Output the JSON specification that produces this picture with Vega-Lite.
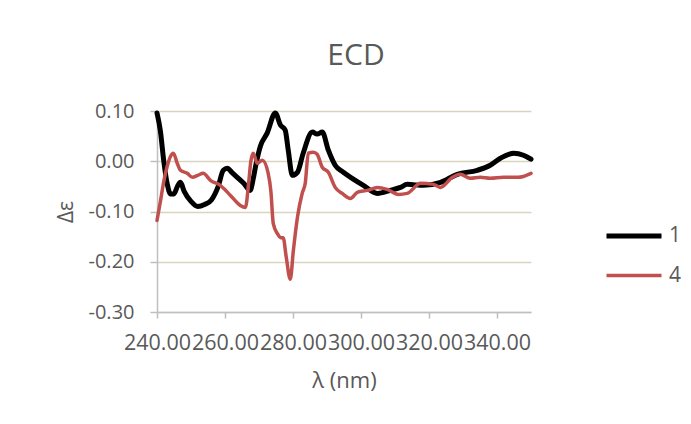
{
  "$schema": "https://vega.github.io/schema/vega-lite/v6.json",
  "width": 374,
  "height": 201,
  "autosize": {"type": "none"},
  "padding": {"left": 157, "top": 111, "right": 160, "bottom": 112},
  "background": "white",
  "config": {
    "view": {"stroke": null},
    "font": "Open Sans",
    "axis": {"labelColor": "#595959", "titleColor": "#595959", "labelFont": "Open Sans", "titleFont": "Open Sans", "titleFontWeight": "normal", "domainColor": "#BFBFBF", "tickColor": "#BFBFBF", "domainWidth": 1.5, "tickWidth": 1.5},
    "legend": {"labelColor": "#595959", "labelFont": "Open Sans", "labelFontSize": 21}
  },
  "title": {"text": "ECD", "fontSize": 30, "font": "Open Sans", "fontWeight": "normal", "color": "#595959", "anchor": "middle", "dx": 12, "offset": 30},
  "data": {"values": [
    {"wl": 240, "de": 0.096, "s": "1"},
    {"wl": 241, "de": 0.06, "s": "1"},
    {"wl": 242, "de": 0.0, "s": "1"},
    {"wl": 243, "de": -0.045, "s": "1"},
    {"wl": 244, "de": -0.065, "s": "1"},
    {"wl": 245, "de": -0.065, "s": "1"},
    {"wl": 246, "de": -0.05, "s": "1"},
    {"wl": 246.9, "de": -0.042, "s": "1"},
    {"wl": 248, "de": -0.06, "s": "1"},
    {"wl": 250, "de": -0.08, "s": "1"},
    {"wl": 252, "de": -0.09, "s": "1"},
    {"wl": 254, "de": -0.086, "s": "1"},
    {"wl": 256, "de": -0.077, "s": "1"},
    {"wl": 258, "de": -0.05, "s": "1"},
    {"wl": 259.5, "de": -0.018, "s": "1"},
    {"wl": 260.7, "de": -0.014, "s": "1"},
    {"wl": 262, "de": -0.022, "s": "1"},
    {"wl": 263.6, "de": -0.032, "s": "1"},
    {"wl": 265.5, "de": -0.044, "s": "1"},
    {"wl": 267.4, "de": -0.058, "s": "1"},
    {"wl": 268.3, "de": -0.035, "s": "1"},
    {"wl": 269, "de": -0.01, "s": "1"},
    {"wl": 270.4, "de": 0.03, "s": "1"},
    {"wl": 272.4, "de": 0.056, "s": "1"},
    {"wl": 274.8, "de": 0.096, "s": "1"},
    {"wl": 276.3, "de": 0.072, "s": "1"},
    {"wl": 277.7, "de": 0.062, "s": "1"},
    {"wl": 278.6, "de": 0.022, "s": "1"},
    {"wl": 279.8, "de": -0.028, "s": "1"},
    {"wl": 281.3, "de": -0.022, "s": "1"},
    {"wl": 283, "de": 0.016, "s": "1"},
    {"wl": 285.7, "de": 0.058, "s": "1"},
    {"wl": 287.1, "de": 0.054, "s": "1"},
    {"wl": 288.6, "de": 0.058, "s": "1"},
    {"wl": 290.4, "de": 0.022, "s": "1"},
    {"wl": 292.4, "de": -0.008, "s": "1"},
    {"wl": 294.8, "de": -0.022, "s": "1"},
    {"wl": 297.4, "de": -0.034, "s": "1"},
    {"wl": 300.7, "de": -0.048, "s": "1"},
    {"wl": 304.8, "de": -0.064, "s": "1"},
    {"wl": 308.6, "de": -0.058, "s": "1"},
    {"wl": 311.6, "de": -0.052, "s": "1"},
    {"wl": 313.6, "de": -0.046, "s": "1"},
    {"wl": 318.4, "de": -0.048, "s": "1"},
    {"wl": 323.4, "de": -0.042, "s": "1"},
    {"wl": 328.3, "de": -0.026, "s": "1"},
    {"wl": 334.2, "de": -0.018, "s": "1"},
    {"wl": 338, "de": -0.008, "s": "1"},
    {"wl": 341, "de": 0.006, "s": "1"},
    {"wl": 344.9, "de": 0.016, "s": "1"},
    {"wl": 347.8, "de": 0.012, "s": "1"},
    {"wl": 350, "de": 0.004, "s": "1"},
    {"wl": 240, "de": -0.118, "s": "4"},
    {"wl": 241, "de": -0.08, "s": "4"},
    {"wl": 242, "de": -0.04, "s": "4"},
    {"wl": 243, "de": -0.01, "s": "4"},
    {"wl": 244, "de": 0.01, "s": "4"},
    {"wl": 244.8, "de": 0.016, "s": "4"},
    {"wl": 246, "de": -0.005, "s": "4"},
    {"wl": 246.9, "de": -0.018, "s": "4"},
    {"wl": 248.9, "de": -0.024, "s": "4"},
    {"wl": 250.4, "de": -0.032, "s": "4"},
    {"wl": 252, "de": -0.028, "s": "4"},
    {"wl": 253.6, "de": -0.024, "s": "4"},
    {"wl": 255.7, "de": -0.038, "s": "4"},
    {"wl": 258.6, "de": -0.048, "s": "4"},
    {"wl": 261.6, "de": -0.068, "s": "4"},
    {"wl": 264.5, "de": -0.088, "s": "4"},
    {"wl": 266, "de": -0.092, "s": "4"},
    {"wl": 267, "de": -0.04, "s": "4"},
    {"wl": 267.6, "de": 0.0, "s": "4"},
    {"wl": 268.3, "de": 0.016, "s": "4"},
    {"wl": 269.5, "de": -0.004, "s": "4"},
    {"wl": 271, "de": 0.002, "s": "4"},
    {"wl": 272.7, "de": -0.024, "s": "4"},
    {"wl": 273.5, "de": -0.06, "s": "4"},
    {"wl": 274.2, "de": -0.124, "s": "4"},
    {"wl": 275.5, "de": -0.145, "s": "4"},
    {"wl": 276.3, "de": -0.152, "s": "4"},
    {"wl": 277.1, "de": -0.152, "s": "4"},
    {"wl": 278, "de": -0.19, "s": "4"},
    {"wl": 279.2, "de": -0.235, "s": "4"},
    {"wl": 280.1, "de": -0.178, "s": "4"},
    {"wl": 281.3, "de": -0.112, "s": "4"},
    {"wl": 282.7, "de": -0.064, "s": "4"},
    {"wl": 283.6, "de": -0.044, "s": "4"},
    {"wl": 284.5, "de": 0.016, "s": "4"},
    {"wl": 286, "de": 0.018, "s": "4"},
    {"wl": 287.1, "de": 0.014, "s": "4"},
    {"wl": 288.6, "de": -0.012, "s": "4"},
    {"wl": 290.4, "de": -0.022, "s": "4"},
    {"wl": 292.4, "de": -0.052, "s": "4"},
    {"wl": 294.5, "de": -0.064, "s": "4"},
    {"wl": 296.9, "de": -0.074, "s": "4"},
    {"wl": 298.9, "de": -0.062, "s": "4"},
    {"wl": 301.9, "de": -0.058, "s": "4"},
    {"wl": 304.8, "de": -0.052, "s": "4"},
    {"wl": 307.7, "de": -0.056, "s": "4"},
    {"wl": 311, "de": -0.066, "s": "4"},
    {"wl": 313.6, "de": -0.064, "s": "4"},
    {"wl": 317.5, "de": -0.044, "s": "4"},
    {"wl": 321.3, "de": -0.046, "s": "4"},
    {"wl": 323.3, "de": -0.052, "s": "4"},
    {"wl": 326.9, "de": -0.032, "s": "4"},
    {"wl": 329.2, "de": -0.026, "s": "4"},
    {"wl": 332.1, "de": -0.034, "s": "4"},
    {"wl": 335.1, "de": -0.032, "s": "4"},
    {"wl": 338, "de": -0.034, "s": "4"},
    {"wl": 341.9, "de": -0.032, "s": "4"},
    {"wl": 346.2, "de": -0.032, "s": "4"},
    {"wl": 350, "de": -0.024, "s": "4"}
  ]},
  "mark": {"type": "line", "interpolate": "monotone", "strokeCap": "round", "strokeJoin": "round"},
  "encoding": {
    "x": {"field": "wl", "type": "quantitative", "scale": {"domain": [240, 350], "nice": false, "zero": false},
      "axis": {"title": "λ (nm)", "values": [240, 260, 280, 300, 320, 340], "format": ".2f", "labelOverlap": false, "labelFontSize": 21.5, "titleFontSize": 22, "grid": false, "tickSize": 6, "labelPadding": 14, "titlePadding": 17, "labelFlush": false}},
    "y": {"field": "de", "type": "quantitative", "scale": {"domain": [-0.3, 0.1], "nice": false},
      "axis": {"title": "Δε", "values": [-0.3, -0.2, -0.1, 0, 0.1], "format": ".2f", "labelExpr": "replace(datum.label, '−', '-')", "labelFontSize": 20, "titleFontSize": 21, "grid": true, "gridColor": "#D9D4C0", "gridWidth": 1.5, "tickSize": 7, "labelPadding": 16, "titlePadding": 12}},
    "color": {"field": "s", "type": "nominal", "scale": {"domain": ["1", "4"], "range": ["#000000", "#C0504D"]},
      "legend": {"title": null, "orient": "none", "legendX": 447, "legendY": 95, "symbolType": "stroke", "symbolSize": 3025, "symbolStrokeWidth": 4.5, "rowPadding": -11, "labelOffset": 5}},
    "strokeWidth": {"field": "s", "type": "nominal", "scale": {"domain": ["1", "4"], "range": [5, 3.5]}, "legend": null}
  }
}
